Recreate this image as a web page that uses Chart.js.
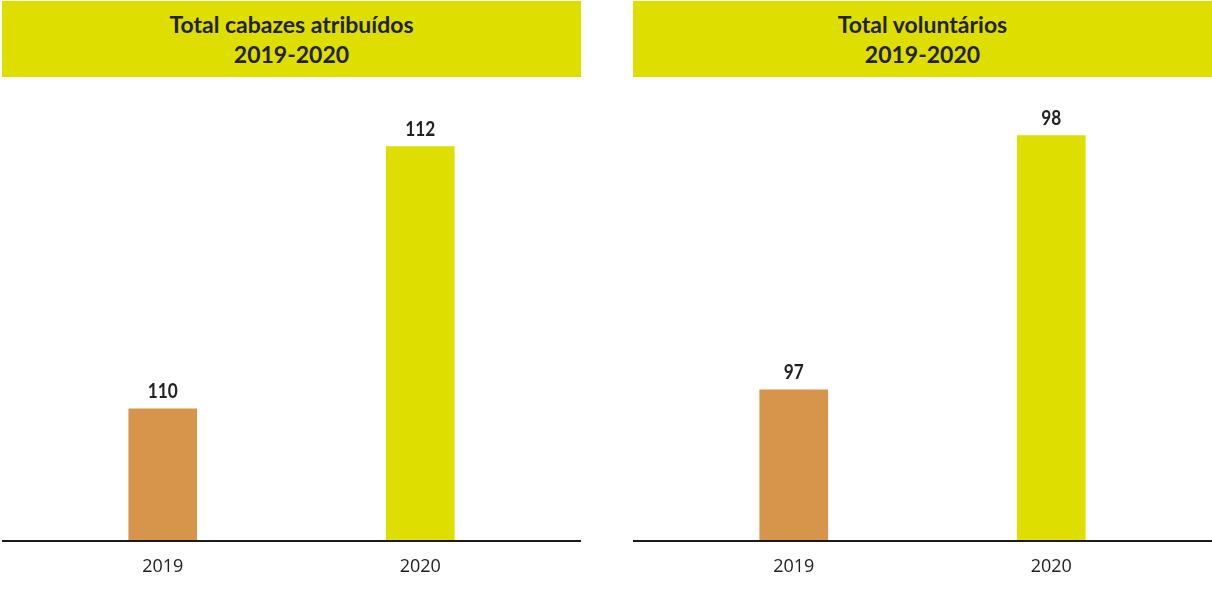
<!DOCTYPE html>
<html lang="pt">
<head>
<meta charset="utf-8">
<title>Cabazes e voluntários 2019-2020</title>
<script src="https://cdn.jsdelivr.net/npm/chart.js@4/dist/chart.umd.min.js"></script>
<style>
  html, body { margin: 0; padding: 0; background: #fff; }
  body { width: 1212px; height: 591px; position: relative; overflow: hidden; }
  .painel { position: absolute; top: 0; width: 579px; height: 591px; }
  .cabecalho {
    position: absolute; left: 0; top: 1px; width: 579px; height: 76px;
    background: #dede00; color: #222; box-sizing: border-box; padding-top: 8px;
    font-family: Lato, sans-serif;
    font-weight: bold; font-size: 23px; line-height: 30px; text-align: center;
  }
  .painel canvas { position: absolute; left: 0; top: 77px; }
</style>
</head>
<body>
  <div class="painel" style="left:2px">
    <div class="cabecalho">Total cabazes atribuídos<br>2019-2020</div>
    <canvas id="graficoCabazes" width="579" height="514"></canvas>
  </div>
  <div class="painel" style="left:633px">
    <div class="cabecalho">Total voluntários<br>2019-2020</div>
    <canvas id="graficoVoluntarios" width="579" height="514"></canvas>
  </div>

<script>
const anos = ['2019', '2020'];
const cabazes = [110, 112];
const voluntarios = [97, 98];
const coresBarras = ['#d7954b', '#dede00'];

// linha de base a toda a largura do painel
const linhaBase = {
  id: 'linhaBase',
  afterDatasetsDraw(chart) {
    const ctx = chart.ctx;
    const y = chart.chartArea.bottom + 1;
    ctx.save();
    ctx.strokeStyle = '#1a1a1a';
    ctx.lineWidth = 2.2;
    ctx.beginPath();
    ctx.moveTo(0, y);
    ctx.lineTo(chart.width, y);
    ctx.stroke();
    ctx.restore();
  }
};

// valor escrito por cima de cada barra (letra um pouco estreitada)
const rotulosValor = {
  id: 'rotulosValor',
  afterDatasetsDraw(chart) {
    const ctx = chart.ctx;
    const meta = chart.getDatasetMeta(0);
    const dados = chart.data.datasets[0].data;
    ctx.save();
    ctx.fillStyle = '#222';
    ctx.font = 'bold 21px Lato, sans-serif';
    ctx.textAlign = 'center';
    ctx.textBaseline = 'alphabetic';
    meta.data.forEach((barra, i) => {
      ctx.save();
      ctx.translate(barra.x, barra.y - 11);
      ctx.scale(0.82, 1);
      ctx.fillText(String(dados[i]), 0, 0);
      ctx.restore();
    });
    ctx.restore();
  }
};

function criarGrafico(id, valores, minimo, maximo) {
  const ctx = document.getElementById(id).getContext('2d');
  return new Chart(ctx, {
    type: 'bar',
    data: {
      labels: anos,
      datasets: [{
        data: valores,
        backgroundColor: coresBarras,
        borderWidth: 0,
        barThickness: 68
      }]
    },
    options: {
      responsive: false,
      animation: false,
      layout: { padding: { left: 32, right: 32, top: 0, bottom: 0 } },
      plugins: {
        legend: { display: false },
        tooltip: { enabled: false }
      },
      scales: {
        x: {
          grid: { display: false, drawTicks: false },
          border: { display: false },
          ticks: {
            color: '#222',
            padding: 16,
            font: { family: '"Open Sans", sans-serif', size: 18 }
          },
          afterFit(scale) { scale.height = 51; }
        },
        y: { display: false, min: minimo, max: maximo }
      }
    },
    plugins: [linhaBase, rotulosValor]
  });
}

criarGrafico('graficoCabazes', cabazes, 109, 112.53);
criarGrafico('graficoVoluntarios', voluntarios, 96.41, 98.23);
</script>
</body>
</html>
